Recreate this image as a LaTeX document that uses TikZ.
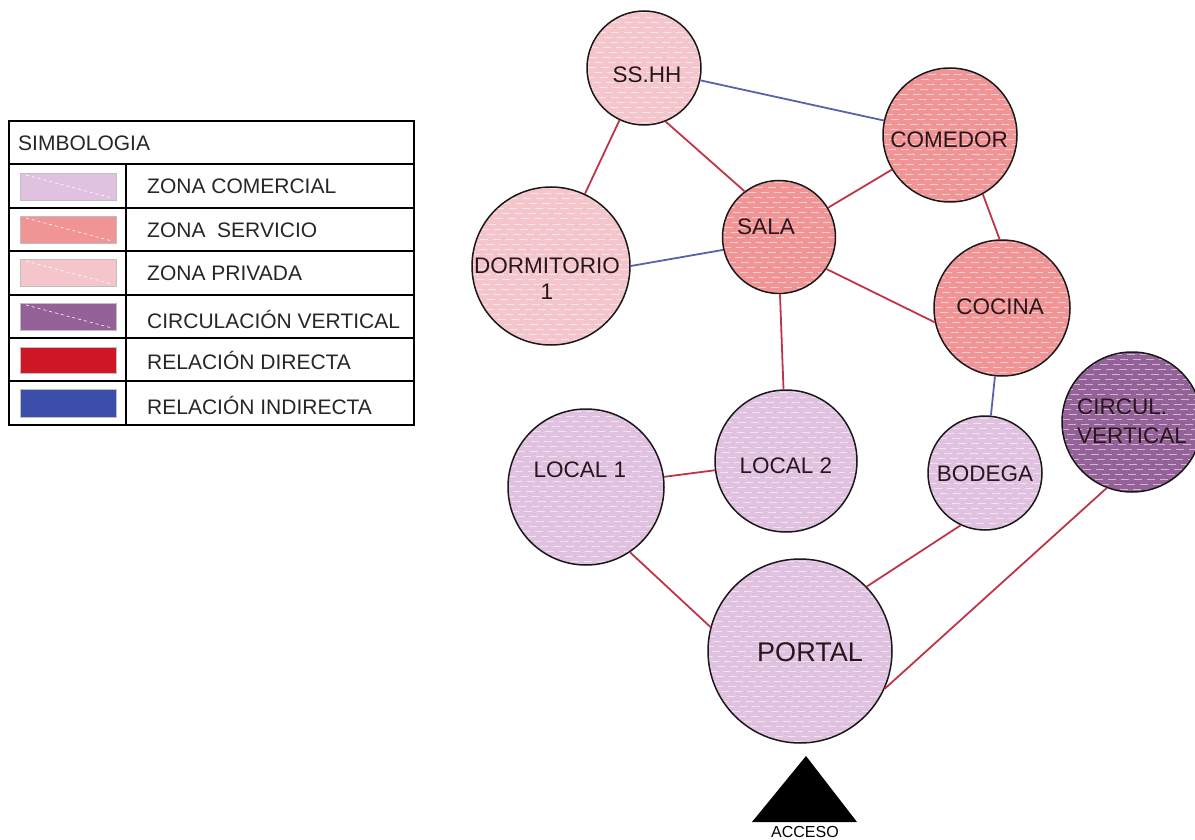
\documentclass[tikz,border=0pt]{standalone}
\usepackage{fontspec}
\setmainfont{Liberation Sans}
\definecolor{comer}{RGB}{224,194,224}
\definecolor{serv}{RGB}{240,148,150}
\definecolor{priv}{RGB}{244,198,204}
\definecolor{circv}{RGB}{148,98,152}
\definecolor{rdir}{RGB}{192,52,72}
\definecolor{rind}{RGB}{88,98,170}
\definecolor{legred}{RGB}{206,22,38}
\definecolor{legblue}{RGB}{58,78,170}
\definecolor{ink}{RGB}{40,22,28}
\tikzset{
 hatch/.style={path picture={
   \foreach \k [evaluate=\k as \ph using {mod(\k*7,13)}] in {0,...,38}
     \draw[white,opacity=0.55,line width=1pt,dash pattern=on 8pt off 5pt,dash phase=\ph pt]
       ([yshift=-\k*5pt-2pt]path picture bounding box.north west) -- ([yshift=-\k*5pt-2pt]path picture bounding box.north east);
 }},
 room/.style={circle,draw=black!90,line width=1.5pt,inner sep=0pt,hatch},
 lbl/.style={text=ink,font=\fontsize{22.5}{26}\selectfont,align=center,inner sep=0pt},
 direct/.style={draw=rdir,line width=1.8pt},
 indirect/.style={draw=rind,line width=1.8pt},
 legtxt/.style={anchor=west,inner sep=0pt,font=\fontsize{21}{25}\selectfont,text=black!85,text height=15pt,text depth=0pt},
 swatch/.style={draw=black!25,line width=0.8pt},
 swline/.style={draw=white,dashed,line width=0.6pt},
 grid/.style={draw=black,line width=1.3pt},
}
\begin{document}
\begin{tikzpicture}[x=1pt,y=-1pt]
\useasboundingbox (0,0) rectangle (1195,840);

% ---------- legend ----------
\draw[grid] (9,121) rectangle (414,425);
\foreach \yy in {164,208,251,295,338,381} \draw[grid] (9,\yy) -- (414,\yy);
\draw[grid] (126,164) -- (126,425);
\node[legtxt] (leghead) at (18,143) {SIMBOLOGIA};

\filldraw[swatch,fill=comer] (20,173) rectangle (116,200);
\draw[swline] (26,175) -- (112,198);
\node[legtxt] (lg1) at (147,186) {ZONA COMERCIAL};

\filldraw[swatch,fill=serv] (20,216) rectangle (116,243);
\draw[swline] (26,218) -- (112,241);
\node[legtxt] (lg2) at (147,230) {ZONA\ \ SERVICIO};

\filldraw[swatch,fill=priv] (20,259) rectangle (116,286);
\draw[swline] (26,261) -- (112,284);
\node[legtxt] (lg3) at (147,273) {ZONA PRIVADA};

\filldraw[swatch,fill=circv] (20,303) rectangle (116,330);
\draw[swline] (26,305) -- (112,328);
\node[legtxt] (lg4) at (147,321) {CIRCULACIÓN VERTICAL};

\filldraw[swatch,fill=legred] (20,347) rectangle (116,373);
\node[legtxt] (lg5) at (147,362) {RELACIÓN DIRECTA};

\filldraw[swatch,fill=legblue] (20,389) rectangle (116,417);
\node[legtxt] (lg6) at (147,407) {RELACIÓN INDIRECTA};

% ---------- rooms ----------
\node[room,fill=priv,minimum size=114pt] (sshh) at (644,68) {};
\node[lbl] (sshhT) at (647,75) {SS.HH};

\node[room,fill=serv,minimum size=134pt] (comedor) at (950,135) {};
\node[lbl] (comedorT) at (949,140) {COMEDOR};

\node[room,fill=serv,minimum size=113pt] (sala) at (779,237) {};
\node[lbl] (salaT) at (766,227) {SALA};

\node[room,fill=priv,minimum size=158pt] (dorm) at (551,266) {};
\node[lbl] (dormT) at (547,279) {DORMITORIO\\1};

\node[room,fill=serv,minimum size=136pt] (cocina) at (1002,308) {};
\node[lbl] (cocinaT) at (1000,307) {COCINA};

\node[room,fill=circv,minimum size=140pt] (circ) at (1132,422) {};
\node[lbl,align=left,anchor=west,font=\fontsize{22.5}{29}\selectfont] (circT) at (1077,421) {CIRCUL.\\VERTICAL};

\node[room,fill=comer,minimum size=156pt] (local1) at (586,487) {};
\node[lbl] (local1T) at (580,470) {LOCAL 1};

\node[room,fill=comer,minimum size=142pt] (local2) at (786,461) {};
\node[lbl] (local2T) at (786,466) {LOCAL 2};

\node[room,fill=comer,minimum size=114pt] (bodega) at (985,473) {};
\node[lbl] (bodegaT) at (985,474) {BODEGA};

\node[room,fill=comer,minimum size=184pt] (portal) at (800,651) {};
\node[lbl,font=\fontsize{27}{31}\selectfont] (portalT) at (810,652) {PORTAL};

% ---------- relations ----------
\draw[indirect] (sshh) -- (comedor);
\draw[direct] (sshh) -- (dorm);
\draw[direct] (sshh.-68) -- (sala.127);
\draw[direct] (sala) -- (comedor);
\draw[indirect] (sala.193) -- (dorm.0);
\draw[direct] (sala.-34) -- (cocina.192);
\draw[direct] (sala.-89) -- (local2.92);
\draw[direct] (comedor.-61) -- (cocina.92);
\draw[indirect] (cocina) -- (bodega);
\draw[direct] (local1) -- (local2);
\draw[direct] (local1.-56) -- (portal.165);
\draw[direct] (bodega.245) -- (portal.44);
\draw[direct] (circ.249) -- (portal.-24);

% ---------- access ----------
\coordinate (apex) at (806,756);
\coordinate (bl) at (752,822);
\coordinate (br) at (857,822);
\fill[black] (apex) -- (br) -- (bl) -- cycle;
\node[inner sep=0pt,font=\fontsize{16}{19}\selectfont,text height=11.5pt,text depth=0pt] (acceso) at (805,831.5) {ACCESO};
\end{tikzpicture}
\end{document}
